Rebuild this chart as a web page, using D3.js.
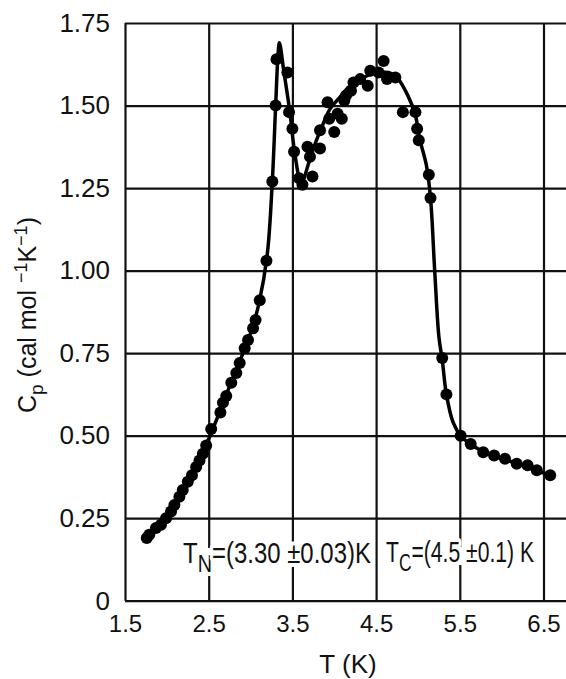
<!DOCTYPE html>
<html>
<head>
<meta charset="utf-8">
<script src="https://cdn.jsdelivr.net/npm/d3@7"></script>
<style>
  html, body { margin: 0; padding: 0; background: #fff; }
  svg { display: block; }
  text { font-family: "Liberation Sans", Arial, sans-serif; fill: #111; }
</style>
</head>
<body>
<div id="chart"></div>
<script>
// measured points, T in K and Cp in cal/mol/K
const T = [1.76, 1.79, 1.87, 1.93, 1.99, 2.05, 2.09, 2.15, 2.19, 2.25,
  2.30, 2.35, 2.39, 2.43, 2.47, 2.53, 2.64, 2.67, 2.71, 2.77,
  2.83, 2.87, 2.93, 2.97, 3.03, 3.06, 3.11, 3.19, 3.26, 3.30,
  3.31, 3.44, 3.46, 3.50, 3.52, 3.58, 3.62, 3.68, 3.71, 3.74,
  3.83, 3.83, 3.92, 3.94, 4.00, 4.04, 4.09, 4.12, 4.14, 4.20,
  4.23, 4.31, 4.40, 4.43, 4.53, 4.59, 4.63, 4.73, 4.82, 4.97,
  4.99, 5.01, 5.13, 5.15, 5.29, 5.34, 5.51, 5.63, 5.78, 5.91,
  6.04, 6.18, 6.31, 6.42, 6.58];
const Cp = [0.19, 0.20, 0.22, 0.23, 0.25, 0.27, 0.29, 0.315, 0.335, 0.36,
  0.38, 0.405, 0.425, 0.445, 0.47, 0.52, 0.57, 0.60, 0.62, 0.66,
  0.69, 0.72, 0.765, 0.79, 0.825, 0.85, 0.91, 1.03, 1.27, 1.50,
  1.64, 1.60, 1.48, 1.43, 1.36, 1.28, 1.26, 1.375, 1.345, 1.285,
  1.37, 1.425, 1.51, 1.46, 1.42, 1.475, 1.46, 1.515, 1.53, 1.545,
  1.57, 1.58, 1.56, 1.605, 1.60, 1.635, 1.58, 1.585, 1.48, 1.48,
  1.43, 1.395, 1.29, 1.22, 0.735, 0.625, 0.50, 0.475, 0.45, 0.44,
  0.43, 0.415, 0.41, 0.395, 0.38];

// hand drawn curve through the points
const curveT = [1.76, 2.0, 2.25, 2.5, 2.75, 3.0, 3.1, 3.2, 3.26, 3.30, 3.33, 3.345,
  3.40, 3.47, 3.52, 3.57, 3.60, 3.64, 3.70, 3.78, 3.86, 3.95, 4.05, 4.15, 4.25,
  4.35, 4.45, 4.55, 4.65, 4.75, 4.88, 4.97, 5.02, 5.10, 5.15, 5.20, 5.25, 5.29,
  5.34, 5.42, 5.51, 5.65, 5.8, 6.0, 6.2, 6.4, 6.6];
const curveCp = [0.185, 0.25, 0.36, 0.49, 0.65, 0.81, 0.90, 1.05, 1.27, 1.50, 1.66, 1.69,
  1.60, 1.48, 1.37, 1.29, 1.25, 1.28, 1.33, 1.39, 1.44, 1.49, 1.52, 1.55, 1.57,
  1.585, 1.595, 1.60, 1.60, 1.585, 1.53, 1.47, 1.40, 1.32, 1.22, 1.00, 0.80, 0.73,
  0.625, 0.54, 0.50, 0.47, 0.45, 0.43, 0.415, 0.395, 0.38];

const xTicks = [1.5, 2.5, 3.5, 4.5, 5.5, 6.5];
const yTicks = [0, 0.25, 0.5, 0.75, 1.0, 1.25, 1.5, 1.75];

const W = 566, H = 679;
const margin = {top: 23, left: 125};
const plotH = 577.7;

const svg = d3.select("#chart").append("svg")
  .attr("width", W).attr("height", H);

const x = d3.scaleLinear().domain([1.5, 6.8]).range([margin.left, margin.left + 5.3 * 83.7]);
const y = d3.scaleLinear().domain([0, 1.75]).range([margin.top + plotH, margin.top]);

// grid + y labels
const gy = svg.append("g")
  .attr("transform", "translate(" + margin.left + ",0)")
  .call(d3.axisLeft(y).tickValues(yTicks)
    .tickSizeInner(-(W - margin.left + 10)).tickSizeOuter(0).tickPadding(15)
    .tickFormat(d => d === 0 ? "0" : d.toFixed(2)));
gy.select(".domain").remove();
gy.selectAll("line").attr("stroke", "#111").attr("stroke-width", 2.2);
gy.selectAll("text").attr("font-size", 26).attr("fill", "#111")
  .style("font-family", "Liberation Sans, Arial, sans-serif");

// grid + x labels
const gx = svg.append("g")
  .attr("transform", "translate(0," + y(0) + ")")
  .call(d3.axisBottom(x).tickValues(xTicks)
    .tickSizeInner(-plotH).tickSizeOuter(0).tickPadding(14)
    .tickFormat(d3.format(".1f")));
gx.select(".domain").remove();
gx.selectAll("line").attr("stroke", "#111").attr("stroke-width", 2.2);
gx.selectAll("text").attr("font-size", 24).attr("fill", "#111")
  .style("font-family", "Liberation Sans, Arial, sans-serif");

// stretch a text to a given width (the lettering is condensed)
function fit(textSel, width) {
  const w = textSel.node().getComputedTextLength();
  textSel.attr("transform", "scale(" + (width / w) + ",1)");
}

// annotations, blanking the grid behind the lettering
function note(x0, y0, main, sub, rest, width) {
  const g = svg.append("g").attr("transform", "translate(" + x0 + "," + y0 + ")");
  const bg = g.append("rect").attr("x", 2).attr("y", -15)
    .attr("width", width - 4).attr("height", 18).attr("fill", "#fff");
  const t = g.append("text").attr("font-size", 29)
    .attr("stroke", "#fff").attr("stroke-width", 8)
    .attr("paint-order", "stroke").attr("stroke-linejoin", "round");
  t.append("tspan").text(main);
  t.append("tspan").attr("dy", 9).attr("font-size", 24).text(sub);
  t.append("tspan").attr("dy", -9).text(rest);
  fit(t, width);
}
note(183, 563, "T", "N", "=(3.30 \u00b10.03)K", 188);
note(386, 562, "T", "C", "=(4.5 \u00b10.1) K", 148);

// curve
const line = d3.line()
  .x((d, i) => x(curveT[i]))
  .y((d, i) => y(curveCp[i]))
  .curve(d3.curveCatmullRom.alpha(0.5));
svg.append("path")
  .attr("d", line(curveT))
  .attr("fill", "none")
  .attr("stroke", "#000")
  .attr("stroke-width", 3.5)
  .attr("stroke-linejoin", "round");

// points
svg.append("g").selectAll("circle")
  .data(T)
  .join("circle")
  .attr("cx", (d, i) => x(d))
  .attr("cy", (d, i) => y(Cp[i]))
  .attr("r", 6)
  .attr("fill", "#000");

// axis titles
svg.append("text")
  .attr("x", 348).attr("y", 673)
  .attr("text-anchor", "middle")
  .attr("font-size", 26)
  .text("T (K)");

const yl = svg.append("g").attr("transform", "translate(36,315) rotate(-90)");
const yt = yl.append("text").attr("text-anchor", "middle").attr("font-size", 25);
yt.append("tspan").text("C");
yt.append("tspan").attr("dy", 7).attr("font-size", 19).text("p");
yt.append("tspan").attr("dy", -7).text(" (cal mol ");
yt.append("tspan").attr("dy", -9).attr("font-size", 18).text("\u22121");
yt.append("tspan").attr("dy", 9).text("K");
yt.append("tspan").attr("dy", -9).attr("font-size", 18).text("\u22121");
yt.append("tspan").attr("dy", 9).text(")");
fit(yt, 196);
</script>
</body>
</html>
